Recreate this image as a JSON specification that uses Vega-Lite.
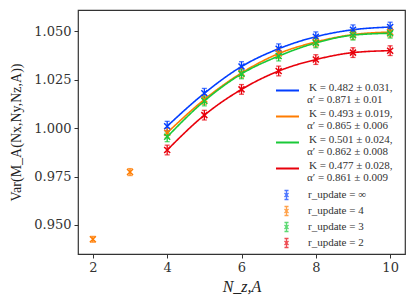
{
  "$schema": "https://vega.github.io/schema/vega-lite/v6.json",
  "width": 327,
  "height": 244,
  "autosize": {"type": "none"},
  "padding": {"left": 78, "top": 10, "right": 11, "bottom": 51},
  "background": "white",
  "config": {
    "font": "DejaVu Serif",
    "view": {"stroke": "#333333", "strokeWidth": 1.2},
    "axis": {
      "grid": false,
      "domain": false,
      "tickColor": "#333333",
      "tickSize": 4,
      "labelFont": "DejaVu Serif",
      "labelFontSize": 13,
      "labelColor": "#333333",
      "titleFont": "Liberation Serif",
      "titleFontWeight": "normal",
      "titleColor": "#222222"
    }
  },
  "data": {
    "values": [
      {"s": "inf", "a": "a_inf", "r": "∞", "n": 4, "v": 1.0010, "e": 0.0025},
      {"s": "inf", "a": "a_inf", "r": "∞", "n": 5, "v": 1.0180, "e": 0.0025},
      {"s": "inf", "a": "a_inf", "r": "∞", "n": 6, "v": 1.0318, "e": 0.0025},
      {"s": "inf", "a": "a_inf", "r": "∞", "n": 7, "v": 1.0410, "e": 0.0025},
      {"s": "inf", "a": "a_inf", "r": "∞", "n": 8, "v": 1.0472, "e": 0.0025},
      {"s": "inf", "a": "a_inf", "r": "∞", "n": 9, "v": 1.0508, "e": 0.0025},
      {"s": "inf", "a": "a_inf", "r": "∞", "n": 10, "v": 1.0522, "e": 0.0025},
      {"s": "4", "a": "a_4", "r": "4", "n": 2, "v": 0.9426, "e": 0.0015},
      {"s": "4", "a": "a_4", "r": "4", "n": 3, "v": 0.9773, "e": 0.0018},
      {"s": "4", "a": "a_4", "r": "4", "n": 4, "v": 0.9976, "e": 0.0025},
      {"s": "4", "a": "a_4", "r": "4", "n": 5, "v": 1.0148, "e": 0.0025},
      {"s": "4", "a": "a_4", "r": "4", "n": 6, "v": 1.0285, "e": 0.0025},
      {"s": "4", "a": "a_4", "r": "4", "n": 7, "v": 1.0385, "e": 0.0025},
      {"s": "4", "a": "a_4", "r": "4", "n": 8, "v": 1.0445, "e": 0.0025},
      {"s": "4", "a": "a_4", "r": "4", "n": 9, "v": 1.0483, "e": 0.0025},
      {"s": "4", "a": "a_4", "r": "4", "n": 10, "v": 1.0496, "e": 0.0025},
      {"s": "3", "a": "a_3", "r": "3", "n": 4, "v": 0.9955, "e": 0.0025},
      {"s": "3", "a": "a_3", "r": "3", "n": 5, "v": 1.0140, "e": 0.0025},
      {"s": "3", "a": "a_3", "r": "3", "n": 6, "v": 1.0280, "e": 0.0025},
      {"s": "3", "a": "a_3", "r": "3", "n": 7, "v": 1.0372, "e": 0.0025},
      {"s": "3", "a": "a_3", "r": "3", "n": 8, "v": 1.0440, "e": 0.0025},
      {"s": "3", "a": "a_3", "r": "3", "n": 9, "v": 1.0480, "e": 0.0025},
      {"s": "3", "a": "a_3", "r": "3", "n": 10, "v": 1.0490, "e": 0.0025},
      {"s": "2", "a": "a_2", "r": "2", "n": 4, "v": 0.9887, "e": 0.0025},
      {"s": "2", "a": "a_2", "r": "2", "n": 5, "v": 1.0067, "e": 0.0025},
      {"s": "2", "a": "a_2", "r": "2", "n": 6, "v": 1.0200, "e": 0.0025},
      {"s": "2", "a": "a_2", "r": "2", "n": 7, "v": 1.0295, "e": 0.0025},
      {"s": "2", "a": "a_2", "r": "2", "n": 8, "v": 1.0354, "e": 0.0025},
      {"s": "2", "a": "a_2", "r": "2", "n": 9, "v": 1.0390, "e": 0.0025},
      {"s": "2", "a": "a_2", "r": "2", "n": 10, "v": 1.0400, "e": 0.0025}
    ]
  },
  "encoding": {
    "x": {
      "field": "n",
      "type": "quantitative",
      "scale": {"domain": [1.6, 10.4], "nice": false, "zero": false},
      "axis": {
        "values": [2, 4, 6, 8, 10],
        "title": "N_z,A",
        "titleFontSize": 16,
        "titleFontStyle": "italic",
        "labelPadding": 3,
        "titlePadding": 4
      }
    },
    "y": {
      "field": "v",
      "type": "quantitative",
      "scale": {"domain": [0.935, 1.061], "nice": false, "zero": false},
      "axis": {
        "values": [0.95, 0.975, 1.0, 1.025, 1.05],
        "format": ".3f",
        "title": "Var(M_A(Nx,Ny,Nz,A))",
        "titleFontSize": 14,
        "labelPadding": 3,
        "titlePadding": 10
      }
    }
  },
  "layer": [
    {
      "transform": [{"filter": "datum.n >= 4"}],
      "mark": {"type": "line", "interpolate": "monotone", "strokeWidth": 1.6},
      "encoding": {
        "stroke": {
          "field": "s",
          "type": "nominal",
          "scale": {"domain": ["inf", "4", "3", "2"], "range": ["#023eff", "#ff7c00", "#1ac938", "#e8000b"]},
          "legend": {
            "orient": "none",
            "legendX": 197,
            "legendY": 67.5,
            "title": null,
            "symbolType": "stroke",
            "symbolSize": 529,
            "symbolStrokeWidth": 2,
            "labelFont": "Liberation Serif",
            "labelFontSize": 11,
            "labelColor": "#333333",
            "labelOffset": 9,
            "labelLimit": 200,
            "labelBaseline": "alphabetic",
            "rowPadding": 0,
            "clipHeight": 26,
            "labelExpr": "datum.value == 'inf' ? 'K = 0.482 ± 0.031,' : datum.value == '4' ? 'K = 0.493 ± 0.019,' : datum.value == '3' ? 'K = 0.501 ± 0.024,' : 'K = 0.477 ± 0.028,'"
          }
        },
        "strokeDash": {
          "field": "a",
          "type": "nominal",
          "scale": {"domain": ["a_inf", "a_4", "a_3", "a_2"], "range": [[1, 0], [1, 0], [1, 0], [1, 0]]},
          "legend": {
            "orient": "none",
            "legendX": 197,
            "legendY": 71,
            "title": null,
            "symbolType": "stroke",
            "symbolSize": 529,
            "symbolStrokeWidth": 0,
            "symbolStrokeColor": "transparent",
            "labelFont": "Liberation Serif",
            "labelFontSize": 11,
            "labelColor": "#333333",
            "labelOffset": 9,
            "labelLimit": 200,
            "labelBaseline": "top",
            "rowPadding": 0,
            "clipHeight": 26,
            "labelExpr": "datum.value == 'a_inf' ? 'α′ = 0.871 ± 0.01' : datum.value == 'a_4' ? 'α′ = 0.865 ± 0.006' : datum.value == 'a_3' ? 'α′ = 0.862 ± 0.008' : 'α′ = 0.861 ± 0.009'"
          }
        }
      }
    },
    {
      "mark": {"type": "errorbar", "thickness": 1.3, "ticks": {"size": 5, "thickness": 1.3}},
      "encoding": {
        "yError": {"field": "e"},
        "color": {
          "field": "r",
          "type": "nominal",
          "scale": {"domain": ["∞", "4", "3", "2"], "range": ["#023eff", "#ff7c00", "#1ac938", "#e8000b"]},
          "legend": {
            "orient": "none",
            "legendX": 203,
            "legendY": 177,
            "title": null,
            "symbolType": "M0,-1L0,1M-0.45,-1L0.45,-1M-0.45,1L0.45,1M-0.45,-0.45L0.45,0.45M-0.45,0.45L0.45,-0.45",
            "symbolSize": 81,
            "symbolStrokeWidth": 1.3,
            "symbolFillColor": "transparent",
            "labelFont": "Liberation Serif",
            "labelFontSize": 11,
            "labelColor": "#333333",
            "labelOffset": 16,
            "rowPadding": 0,
            "clipHeight": 16,
            "labelExpr": "'r_update = ' + datum.value"
          }
        }
      }
    },
    {
      "mark": {"type": "point", "shape": "M-1,-1L1,1M-1,1L1,-1", "filled": false, "size": 36, "strokeWidth": 1.5, "opacity": 1},
      "encoding": {
        "color": {"field": "r", "type": "nominal"}
      }
    }
  ]
}
